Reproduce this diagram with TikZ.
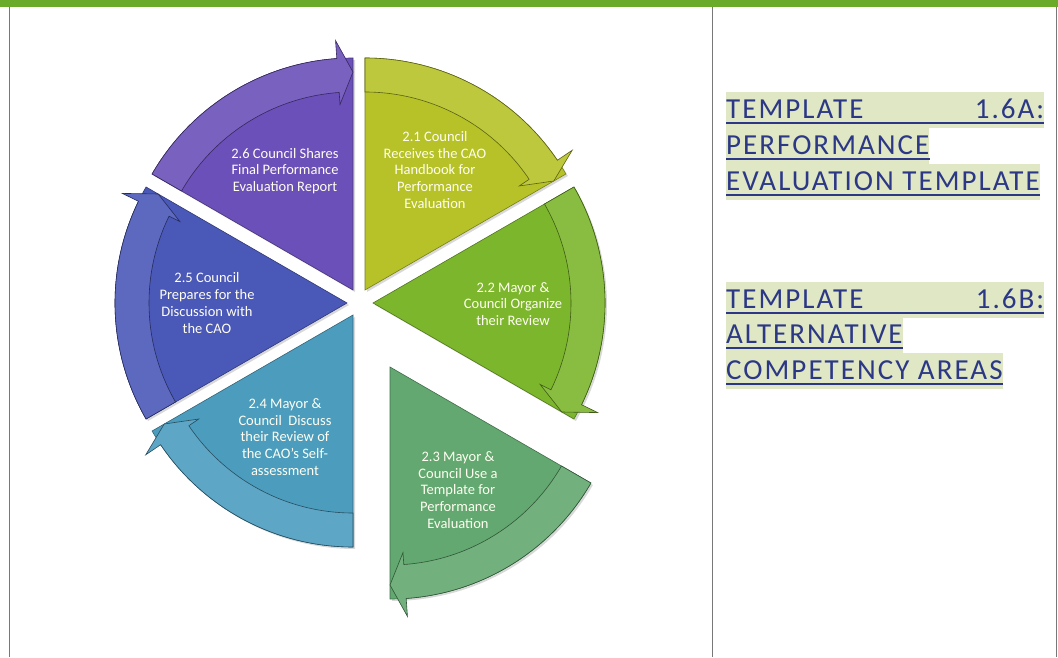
\documentclass[tikz,border=0pt]{standalone}
\usepackage{fontspec}
\setmainfont{Carlito}
\newfontfamily\tmplfont{Carlito}[LetterSpace=7]
\usepackage{xcolor}
\usepackage{tikz}
\usetikzlibrary{shadows}
\definecolor{barGreen}{RGB}{106,172,42}
\definecolor{frameGray}{RGB}{120,120,120}
\definecolor{cycA}{RGB}{182,194,40}
\definecolor{cycB}{RGB}{124,182,44}
\definecolor{cycC}{RGB}{98,168,112}
\definecolor{cycD}{RGB}{76,156,190}
\definecolor{cycE}{RGB}{74,88,184}
\definecolor{cycF}{RGB}{106,80,184}
\definecolor{hlGreen}{RGB}{223,231,196}
\definecolor{tmplBlue}{RGB}{44,56,134}
% one exploded wedge of the cycle, with its curved arrow along the rim
\newcommand{\cyclewedge}[3]{%
  \begin{scope}[shift={(#1)}]
    \fill[#3, draw=#3!65!black, line width=0.6pt,
      drop shadow={opacity=0.3,shadow xshift=2pt,shadow yshift=-2pt}]
      (0,0) -- (#2:232) arc[start angle=#2, end angle=#2-60, radius=232] -- cycle;
    \fill[#3!90!white, draw=#3!50!black, line width=0.6pt]
      (#2:198) -- (#2:232) arc[start angle=#2, end angle=#2-56, radius=232]
      -- ({#2-56}:250) -- ({#2-60}:218) -- ({#2-56}:186) -- ({#2-56}:198)
      arc[start angle=#2-56, end angle=#2, radius=198] -- cycle;
  \end{scope}}
\begin{document}
\begin{tikzpicture}[
  x=1pt, y=1pt,
  cyctext/.style={align=center, text=white!94!yellow, inner sep=0pt,
    font=\fontsize{14.5}{16.7}\selectfont},
  tmpl/.style={anchor=base west, inner sep=0pt, fill=hlGreen, text=tmplBlue,
    text height=27pt, text depth=9pt, font=\tmplfont\fontsize{29}{34}\selectfont},
  uline/.style={tmplBlue, line width=1.6pt},
  frame/.style={frameGray, line width=1pt}
]
\useasboundingbox (0,0) rectangle (1058,657);
\fill[white] (0,0) rectangle (1058,657);
\fill[barGreen] (0,650) rectangle (1058,657);
\draw[frame] (9.5,650) -- (9.5,0);
\draw[frame] (712,650) -- (712,0);
\draw[frame] (1056.5,650) -- (1056.5,0);

\cyclewedge{365,367}{90}{cycA}
\cyclewedge{373,354}{30}{cycB}
\cyclewedge{390,290}{-30}{cycC}
\cyclewedge{353,342}{-90}{cycD}
\cyclewedge{347,354}{-150}{cycE}
\cyclewedge{353,367}{150}{cycF}

\node[cyctext] (t21) at (435,487) {2.1 Council\\Receives the CAO\\Handbook for\\Performance\\Evaluation};
\node[cyctext] (t22) at (513,353) {2.2 Mayor \&\\Council Organize\\their Review};
\node[cyctext] (t23) at (458,167) {2.3 Mayor \&\\Council Use a\\Template for\\Performance\\Evaluation};
\node[cyctext] (t24) at (285,220) {2.4 Mayor \&\\Council~ Discuss\\their Review of\\the CAO’s Self-\\assessment};
\node[cyctext] (t25) at (207,354) {2.5 Council\\Prepares for the\\Discussion with\\the CAO};
\node[cyctext] (t26) at (285,486) {2.6 Council Shares\\Final Performance\\Evaluation Report};

\node[tmpl] (a1) at (726,538) {\makebox[318pt]{TEMPLATE\hfill 1.6A:}};
\node[tmpl] (a2) at (726,502) {PERFORMANCE};
\node[tmpl] (a3) at (726,466) {EVALUATION TEMPLATE};
\node[tmpl] (b1) at (726,348) {\makebox[318pt]{TEMPLATE\hfill 1.6B:}};
\node[tmpl] (b2) at (726,313) {ALTERNATIVE};
\node[tmpl] (b3) at (726,277) {COMPETENCY AREAS};

\foreach \ln in {a1,a2,a3,b1,b2,b3}
  \draw[uline] ([yshift=-4pt]\ln.base west) -- ([yshift=-4pt]\ln.base east);
\end{tikzpicture}
\end{document}
